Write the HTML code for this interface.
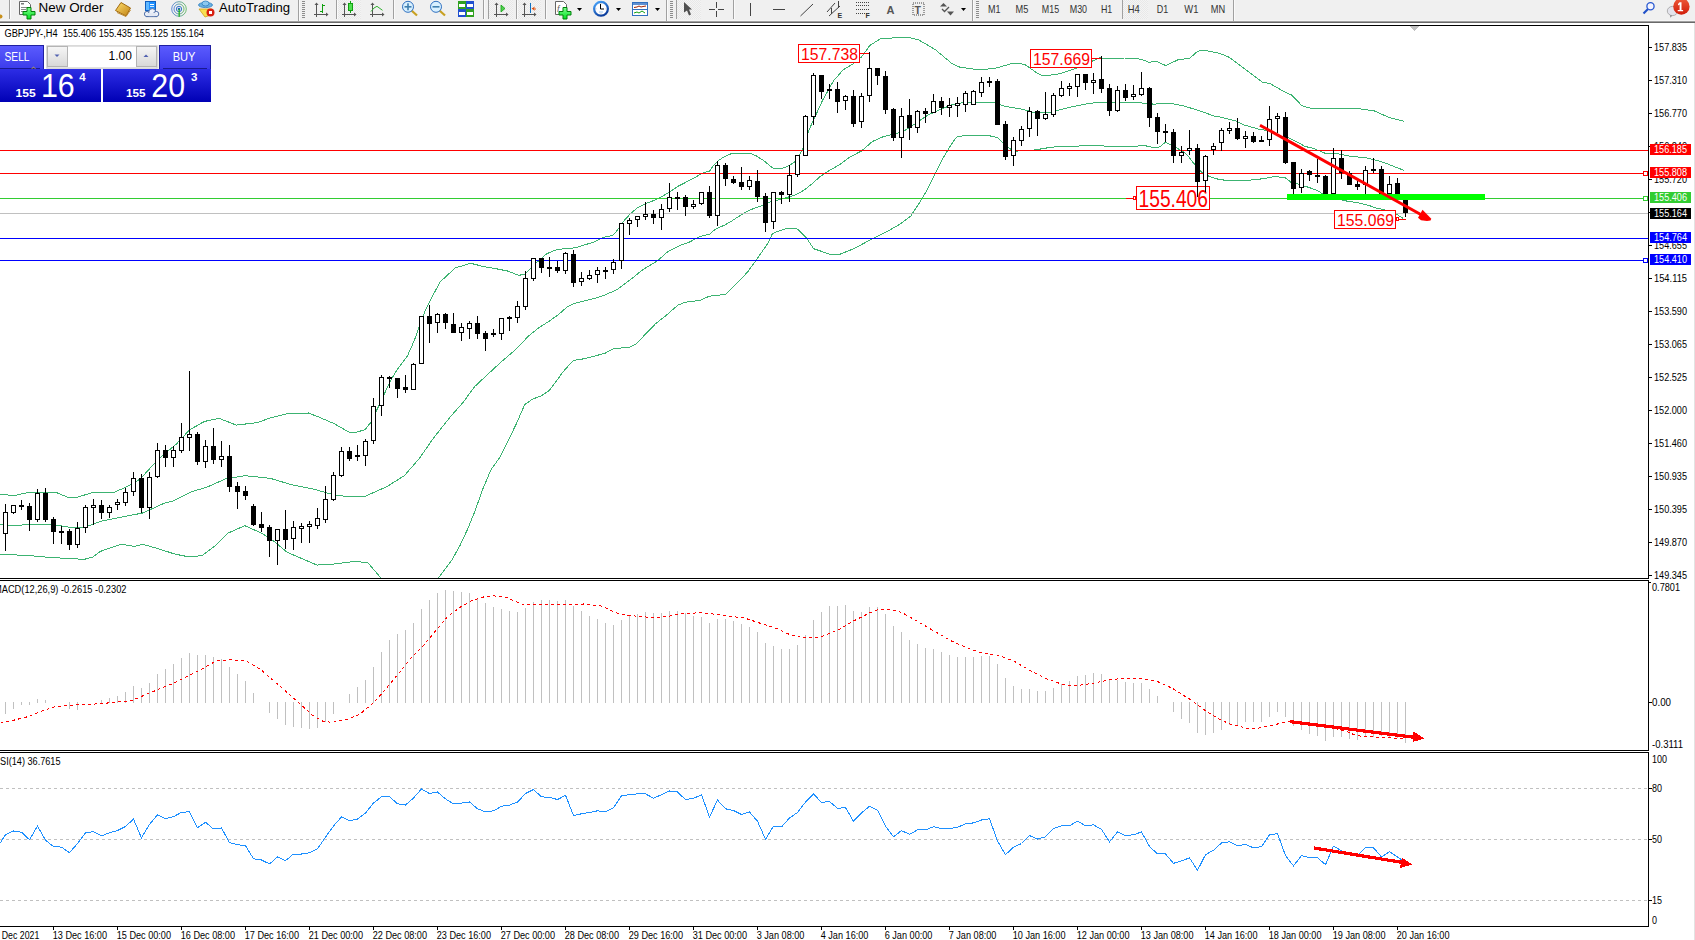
<!DOCTYPE html><html><head><meta charset="utf-8"><style>
*{margin:0;padding:0;box-sizing:border-box}
body{width:1695px;height:940px;overflow:hidden;background:#fff;font-family:'Liberation Sans',sans-serif;position:relative}
.tb{position:absolute;left:0;top:0;width:1695px;height:21px;background:#f0f0f0}
.tb1{position:absolute;left:0;top:21px;width:1695px;height:1px;background:#a9a9a9}
.tb2{position:absolute;left:0;top:22px;width:1695px;height:1px;background:#6e6e6e}
.tp{position:absolute;left:0;top:45px;width:212px;height:57px}
.sellbtn,.buybtn{position:absolute;top:0;height:25px;background:linear-gradient(#5a5aff,#3434e6);color:#fff;font-size:13px;line-height:24px;border:1px solid #1a1ab0}
.sellbtn{left:0;width:44px;padding-left:4px}
.buybtn{left:159px;width:52px;text-align:center}
.lot{position:absolute;left:46px;top:0;width:113px;height:25px;background:#fff;border:1px solid #c8c8c8}
.lot .lb{position:absolute;top:1px;width:21px;height:21px;background:linear-gradient(#f4f4f4,#dcdcdc);border:1px solid #b8b8b8;color:#5060b0;font-size:9px;text-align:center;line-height:19px}
.lot .lb:first-child{left:1px}
.lot .lb:last-child{right:1px}
.lot .lv{position:absolute;right:26px;top:4px;font-size:13px;color:#000}
.sellp,.buyp{position:absolute;top:24px;height:33px;background:linear-gradient(#2a2ae0,#0000b4);color:#fff}
.sellp{left:0;width:101px}
.buyp{left:103px;width:108px}
.sellp .s,.buyp .s{position:absolute;bottom:3px;font-size:13px;font-weight:bold}
.sellp .b,.buyp .b{position:absolute;bottom:-2px;font-size:33px}
.sellp .sup,.buyp .sup{position:absolute;top:2px;font-size:13px;font-weight:bold}
.sellp .s{left:15px}.sellp .b{left:40px}.sellp .sup{left:79px}
.buyp .s{left:22px}.buyp .b{left:48px}.buyp .sup{left:86px}
</style></head><body><svg width="1695" height="940" viewBox="0 0 1695 940" style="position:absolute;left:0;top:0" font-family="Liberation Sans, sans-serif">
<rect x="0" y="23" width="1695" height="917" fill="#fff"/>
<rect x="1694" y="23" width="1" height="917" fill="#e3e3e3"/>
<defs><clipPath id="cm"><rect x="0" y="26" width="1648" height="552"/></clipPath><clipPath id="cmacd"><rect x="0" y="581" width="1648" height="169"/></clipPath><clipPath id="crsi"><rect x="0" y="753" width="1648" height="173"/></clipPath></defs>
<g clip-path="url(#cm)" shape-rendering="crispEdges"><polyline points="0.0,494.5 15.0,495.5 30.0,492.0 55.0,492.0 68.0,497.4 78.0,497.0 91.0,493.0 100.0,492.8 112.8,492.8 127.7,486.4 140.4,478.9 151.0,467.2 163.8,454.5 176.6,443.8 189.4,430.0 204.3,421.5 219.1,418.3 236.2,425.1 257.4,422.6 270.2,417.9 287.2,413.6 308.5,413.0 319.1,417.2 334.0,423.6 348.9,432.1 355.0,432.5 365.0,429.8 370.4,422.9 376.7,410.2 383.9,394.9 391.1,379.5 398.4,367.8 407.4,356.0 414.6,339.8 420.1,323.5 425.5,310.0 430.5,300.0 440.0,282.0 455.3,267.9 470.7,263.3 483.0,266.4 497.5,269.0 508.0,271.1 518.4,275.3 524.8,274.4 531.2,267.7 538.8,260.6 546.5,254.0 554.2,250.4 564.4,248.5 574.6,247.9 583.5,245.3 595.0,241.6 603.3,237.4 613.0,235.3 617.1,230.5 622.7,222.2 629.6,214.6 636.5,208.4 644.8,204.0 653.1,200.8 661.4,197.0 669.7,191.8 678.0,186.3 686.2,182.1 694.5,177.7 702.8,173.1 709.6,171.0 713.8,165.0 718.6,160.5 723.4,157.3 731.9,153.3 750.0,153.3 756.4,156.0 763.8,160.7 773.4,168.5 781.9,168.5 789.4,165.5 794.7,161.8 800.0,153.8 803.2,147.4 808.8,130.4 822.7,100.0 833.7,80.6 843.4,69.6 853.0,64.0 861.4,57.1 870.0,45.3 880.8,38.6 907.9,37.2 918.7,39.9 935.0,49.4 951.3,63.0 959.4,67.0 978.4,69.8 994.7,68.4 1013.7,63.0 1024.5,64.3 1038.1,73.8 1043.5,76.0 1059.8,73.8 1076.1,68.4 1100.0,57.6 1101.4,58.8 1112.9,58.0 1124.4,58.0 1137.1,58.4 1143.5,60.1 1149.1,62.3 1156.5,61.1 1165.6,65.6 1178.0,59.8 1189.6,58.2 1197.8,51.2 1204.4,50.2 1219.3,53.2 1229.2,57.3 1245.7,69.7 1262.2,82.1 1270.5,83.8 1280.4,89.6 1292.0,95.3 1301.9,105.7 1313.4,109.0 1338.2,108.5 1354.7,108.1 1374.6,111.0 1389.4,117.6 1404.3,121.3" fill="none" stroke="#3cb371" stroke-width="1"/><polyline points="0.0,524.6 15.0,525.5 30.0,524.5 55.0,524.8 70.0,527.4 80.0,528.0 90.0,525.3 100.0,521.5 121.3,517.2 142.6,513.0 163.8,503.4 172.3,501.3 191.5,491.7 206.4,487.4 225.5,478.9 244.7,475.7 270.2,478.3 291.5,484.7 312.8,488.9 334.0,494.9 351.1,497.0 366.0,496.0 387.2,486.4 404.3,475.7 419.1,458.7 434.0,437.4 450.0,417.2 463.4,402.0 474.5,386.7 501.3,361.8 515.2,350.0 528.6,336.0 538.8,327.7 549.0,321.3 558.0,314.9 566.9,307.2 574.6,303.4 584.8,300.9 600.9,296.6 616.4,290.0 629.6,280.3 643.4,269.2 657.2,261.0 668.3,251.2 681.4,244.9 689.0,242.3 700.0,236.5 709.6,234.1 716.0,228.8 724.5,225.1 731.9,220.9 742.6,213.9 753.2,208.6 763.8,205.1 770.2,202.0 777.7,200.1 787.2,197.4 795.7,194.8 804.3,190.0 812.8,183.1 820.0,176.7 830.0,170.0 839.2,165.0 850.3,156.7 861.4,151.1 872.4,141.5 883.5,136.6 891.8,134.5 902.8,131.8 915.0,123.8 927.8,115.1 940.5,109.4 953.3,104.3 966.0,102.1 975.0,102.6 986.5,102.1 994.2,102.7 1004.4,106.2 1021.0,109.0 1029.9,111.3 1035.0,113.0 1051.6,112.0 1068.2,107.6 1086.1,104.0 1098.8,102.2 1111.6,102.2 1124.4,102.2 1137.1,102.4 1146.1,103.5 1155.0,104.2 1161.4,103.0 1169.0,103.0 1184.6,106.1 1193.3,108.9 1206.1,113.0 1212.7,115.7 1218.8,116.8 1235.8,121.0 1244.4,125.1 1258.9,129.2 1269.9,131.0 1282.0,136.6 1287.8,137.4 1300.5,143.8 1305.2,146.5 1313.3,148.3 1325.0,153.2 1338.8,154.0 1351.6,156.5 1364.4,157.5 1371.3,159.0 1377.1,160.5 1387.8,163.9 1394.0,166.6 1404.3,170.4" fill="none" stroke="#3cb371" stroke-width="1"/><polyline points="0.0,555.0 10.0,554.6 34.0,556.0 50.0,557.5 66.0,558.3 84.0,559.4 93.0,557.0 100.0,551.5 121.3,544.3 134.0,546.4 142.6,544.3 159.6,549.1 174.5,554.0 189.4,557.0 202.1,555.5 214.9,546.0 227.7,533.2 244.7,525.7 261.7,533.2 274.5,541.7 287.2,552.3 302.1,558.7 317.0,565.1 334.0,564.0 355.3,561.3 368.1,563.0 380.9,578.0 395.0,600.0 425.0,600.0 438.3,578.0 439.0,577.3 451.3,560.9 459.8,546.0 467.2,530.0 474.7,511.9 482.4,490.0 491.2,469.2 500.0,457.3 508.7,439.7 516.7,423.0 524.7,404.6 532.7,399.0 540.6,396.2 548.6,391.1 555.0,383.1 563.0,371.9 573.3,360.4 582.1,359.1 590.0,357.3 604.9,353.3 613.8,348.4 628.7,347.6 636.2,343.9 649.6,329.8 655.5,323.8 665.9,315.6 677.8,305.2 685.3,302.2 700.2,300.3 709.1,296.3 725.5,294.3 738.9,281.4 747.8,271.7 755.3,261.3 764.2,248.6 768.7,241.9 772.4,233.7 774.5,232.6 781.9,229.9 788.3,228.1 793.6,228.1 797.9,229.4 806.4,237.9 813.6,248.7 830.8,254.5 840.1,254.2 853.6,248.8 869.9,240.1 886.2,232.0 899.7,224.4 910.6,216.3 918.7,204.1 926.9,190.5 935.0,174.2 943.2,157.9 951.3,144.4 956.7,137.0 967.6,135.1 986.6,135.1 997.4,137.6 1004.2,144.4 1013.7,151.2 1032.7,150.3 1049.0,147.6 1059.8,146.3 1100.0,145.7 1111.6,146.5 1137.1,146.2 1141.0,145.2 1146.1,145.9 1155.0,148.1 1160.1,146.8 1165.2,142.3 1171.6,144.9 1178.0,148.7 1184.4,152.6 1189.5,157.7 1193.3,162.8 1201.0,171.7 1209.9,176.8 1218.8,179.4 1226.5,180.4 1246.9,180.4 1263.5,178.7 1275.0,176.5 1285.2,177.7 1291.6,182.8 1298.0,184.0 1308.2,187.2 1317.1,190.4 1322.2,193.6 1344.0,200.6 1360.0,203.2 1368.5,205.3 1377.0,208.3 1383.8,209.6 1395.7,213.8 1403.4,218.5" fill="none" stroke="#3cb371" stroke-width="1"/></g>
<g clip-path="url(#cm)" shape-rendering="crispEdges"><rect x="0" y="150" width="1648" height="1" fill="#ff0000"/><rect x="0" y="173" width="1643" height="1" fill="#ff0000"/><rect x="0" y="198" width="1126" height="1" fill="#32cd32"/><rect x="1126" y="198" width="8" height="1" fill="#ff0000"/><rect x="1210" y="198" width="433" height="1" fill="#32cd32"/><rect x="0" y="213" width="1648" height="1" fill="#c0c0c0"/><rect x="0" y="238" width="1648" height="1" fill="#0000ff"/><rect x="0" y="260" width="1643" height="1" fill="#0000ff"/><rect x="1643.5" y="171.5" width="4" height="4" fill="#fff" stroke="#ff0000" stroke-width="1"/><rect x="1643.5" y="196.5" width="4" height="4" fill="#fff" stroke="#32cd32" stroke-width="1"/><rect x="1643.5" y="258.5" width="4" height="4" fill="#fff" stroke="#0000ff" stroke-width="1"/></g>
<g clip-path="url(#cm)"><rect x="798.5" y="44.5" width="61" height="18" fill="#fff" stroke="#ff0000" stroke-width="1" shape-rendering="crispEdges"/><text x="801" y="60" font-size="16.5" fill="#ff0000" textLength="57" lengthAdjust="spacingAndGlyphs">157.738</text><rect x="860" y="53" width="9" height="1" fill="#ff0000"/><rect x="1030.5" y="49.5" width="61" height="18" fill="#fff" stroke="#ff0000" stroke-width="1" shape-rendering="crispEdges"/><text x="1033" y="65" font-size="16.5" fill="#ff0000" textLength="57" lengthAdjust="spacingAndGlyphs">157.669</text><rect x="1092" y="58" width="9" height="1" fill="#ff0000"/><rect x="1136.5" y="186.5" width="73" height="23" fill="#fff" stroke="#ff0000" stroke-width="1" shape-rendering="crispEdges"/><text x="1138.5" y="207.2" font-size="23" fill="#ff0000" textLength="69.5" lengthAdjust="spacingAndGlyphs">155.406</text><rect x="1133.5" y="196.5" width="2" height="3" fill="#fff" stroke="#ff0000"/><rect x="1334.5" y="210.5" width="61" height="18" fill="#fff" stroke="#ff0000" stroke-width="1" shape-rendering="crispEdges"/><text x="1337" y="226" font-size="16.5" fill="#ff0000" textLength="57" lengthAdjust="spacingAndGlyphs">155.069</text><rect x="1396.5" y="217.5" width="2" height="3" fill="#fff" stroke="#ff0000"/><rect x="1399" y="219" width="7" height="1" fill="#ff0000"/></g>
<g clip-path="url(#cm)" shape-rendering="crispEdges"><rect x="5" y="504" width="1" height="47"/><rect x="3" y="512" width="5" height="22"/><rect x="4" y="513" width="3" height="20" fill="#fff"/><rect x="13" y="505" width="1" height="9"/><rect x="11" y="505" width="5" height="8"/><rect x="12" y="506" width="3" height="6" fill="#fff"/><rect x="21" y="500" width="1" height="10"/><rect x="19" y="505" width="5" height="2"/><rect x="29" y="503" width="1" height="28"/><rect x="27" y="506" width="5" height="14"/><rect x="37" y="489" width="1" height="33"/><rect x="35" y="493" width="5" height="27"/><rect x="36" y="494" width="3" height="25" fill="#fff"/><rect x="45" y="488" width="1" height="34"/><rect x="43" y="493" width="5" height="27"/><rect x="53" y="517" width="1" height="27"/><rect x="51" y="519" width="5" height="13"/><rect x="61" y="526" width="1" height="18"/><rect x="59" y="531" width="5" height="2"/><rect x="69" y="529" width="1" height="21"/><rect x="67" y="531" width="5" height="14"/><rect x="77" y="522" width="1" height="26"/><rect x="75" y="528" width="5" height="17"/><rect x="76" y="529" width="3" height="15" fill="#fff"/><rect x="85" y="505" width="1" height="28"/><rect x="83" y="507" width="5" height="21"/><rect x="84" y="508" width="3" height="19" fill="#fff"/><rect x="93" y="499" width="1" height="26"/><rect x="91" y="505" width="5" height="3"/><rect x="92" y="506" width="3" height="1" fill="#fff"/><rect x="101" y="500" width="1" height="19"/><rect x="99" y="505" width="5" height="8"/><rect x="109" y="505" width="1" height="13"/><rect x="107" y="507" width="5" height="6"/><rect x="108" y="508" width="3" height="4" fill="#fff"/><rect x="117" y="499" width="1" height="11"/><rect x="115" y="502" width="5" height="3"/><rect x="116" y="503" width="3" height="1" fill="#fff"/><rect x="125" y="488" width="1" height="18"/><rect x="123" y="492" width="5" height="11"/><rect x="124" y="493" width="3" height="9" fill="#fff"/><rect x="133" y="472" width="1" height="24"/><rect x="131" y="478" width="5" height="14"/><rect x="132" y="479" width="3" height="12" fill="#fff"/><rect x="141" y="474" width="1" height="39"/><rect x="139" y="478" width="5" height="30"/><rect x="149" y="472" width="1" height="47"/><rect x="147" y="477" width="5" height="31"/><rect x="148" y="478" width="3" height="29" fill="#fff"/><rect x="157" y="443" width="1" height="35"/><rect x="155" y="450" width="5" height="27"/><rect x="156" y="451" width="3" height="25" fill="#fff"/><rect x="165" y="445" width="1" height="22"/><rect x="163" y="450" width="5" height="8"/><rect x="173" y="446" width="1" height="21"/><rect x="171" y="450" width="5" height="8"/><rect x="172" y="451" width="3" height="6" fill="#fff"/><rect x="181" y="423" width="1" height="30"/><rect x="179" y="437" width="5" height="14"/><rect x="180" y="438" width="3" height="12" fill="#fff"/><rect x="189" y="371" width="1" height="80"/><rect x="187" y="434" width="5" height="4"/><rect x="188" y="435" width="3" height="2" fill="#fff"/><rect x="197" y="432" width="1" height="33"/><rect x="195" y="434" width="5" height="28"/><rect x="205" y="440" width="1" height="28"/><rect x="203" y="446" width="5" height="16"/><rect x="204" y="447" width="3" height="14" fill="#fff"/><rect x="213" y="428" width="1" height="36"/><rect x="211" y="446" width="5" height="14"/><rect x="221" y="441" width="1" height="26"/><rect x="219" y="456" width="5" height="4"/><rect x="220" y="457" width="3" height="2" fill="#fff"/><rect x="229" y="445" width="1" height="47"/><rect x="227" y="456" width="5" height="31"/><rect x="237" y="482" width="1" height="27"/><rect x="235" y="486" width="5" height="6"/><rect x="245" y="486" width="1" height="14"/><rect x="243" y="491" width="5" height="5"/><rect x="253" y="504" width="1" height="22"/><rect x="251" y="506" width="5" height="19"/><rect x="261" y="512" width="1" height="20"/><rect x="259" y="524" width="5" height="4"/><rect x="269" y="525" width="1" height="32"/><rect x="267" y="527" width="5" height="14"/><rect x="277" y="529" width="1" height="36"/><rect x="275" y="529" width="5" height="12"/><rect x="276" y="530" width="3" height="10" fill="#fff"/><rect x="285" y="510" width="1" height="39"/><rect x="283" y="529" width="5" height="11"/><rect x="293" y="521" width="1" height="29"/><rect x="291" y="527" width="5" height="12"/><rect x="292" y="528" width="3" height="10" fill="#fff"/><rect x="301" y="523" width="1" height="20"/><rect x="299" y="526" width="5" height="3"/><rect x="300" y="527" width="3" height="1" fill="#fff"/><rect x="309" y="521" width="1" height="22"/><rect x="307" y="524" width="5" height="3"/><rect x="308" y="525" width="3" height="1" fill="#fff"/><rect x="317" y="508" width="1" height="21"/><rect x="315" y="518" width="5" height="8"/><rect x="316" y="519" width="3" height="6" fill="#fff"/><rect x="325" y="486" width="1" height="37"/><rect x="323" y="499" width="5" height="21"/><rect x="324" y="500" width="3" height="19" fill="#fff"/><rect x="333" y="472" width="1" height="29"/><rect x="331" y="475" width="5" height="25"/><rect x="332" y="476" width="3" height="23" fill="#fff"/><rect x="341" y="447" width="1" height="30"/><rect x="339" y="451" width="5" height="25"/><rect x="340" y="452" width="3" height="23" fill="#fff"/><rect x="349" y="447" width="1" height="14"/><rect x="347" y="451" width="5" height="8"/><rect x="357" y="445" width="1" height="16"/><rect x="355" y="455" width="5" height="2"/><rect x="365" y="439" width="1" height="27"/><rect x="363" y="441" width="5" height="15"/><rect x="364" y="442" width="3" height="13" fill="#fff"/><rect x="373" y="398" width="1" height="46"/><rect x="371" y="406" width="5" height="35"/><rect x="372" y="407" width="3" height="33" fill="#fff"/><rect x="381" y="375" width="1" height="41"/><rect x="379" y="377" width="5" height="29"/><rect x="380" y="378" width="3" height="27" fill="#fff"/><rect x="389" y="376" width="1" height="12"/><rect x="387" y="377" width="5" height="2"/><rect x="397" y="378" width="1" height="20"/><rect x="395" y="378" width="5" height="11"/><rect x="405" y="375" width="1" height="18"/><rect x="403" y="387" width="5" height="3"/><rect x="413" y="363" width="1" height="27"/><rect x="411" y="364" width="5" height="26"/><rect x="412" y="365" width="3" height="24" fill="#fff"/><rect x="421" y="316" width="1" height="48"/><rect x="419" y="316" width="5" height="48"/><rect x="420" y="317" width="3" height="46" fill="#fff"/><rect x="429" y="305" width="1" height="38"/><rect x="427" y="316" width="5" height="8"/><rect x="437" y="313" width="1" height="20"/><rect x="435" y="314" width="5" height="9"/><rect x="436" y="315" width="3" height="7" fill="#fff"/><rect x="445" y="313" width="1" height="16"/><rect x="443" y="314" width="5" height="9"/><rect x="453" y="313" width="1" height="20"/><rect x="451" y="324" width="5" height="9"/><rect x="461" y="323" width="1" height="18"/><rect x="459" y="327" width="5" height="6"/><rect x="460" y="328" width="3" height="4" fill="#fff"/><rect x="469" y="321" width="1" height="18"/><rect x="467" y="323" width="5" height="6"/><rect x="468" y="324" width="3" height="4" fill="#fff"/><rect x="477" y="316" width="1" height="23"/><rect x="475" y="323" width="5" height="11"/><rect x="485" y="331" width="1" height="20"/><rect x="483" y="333" width="5" height="6"/><rect x="493" y="329" width="1" height="8"/><rect x="491" y="333" width="5" height="2"/><rect x="501" y="318" width="1" height="22"/><rect x="499" y="318" width="5" height="16"/><rect x="500" y="319" width="3" height="14" fill="#fff"/><rect x="509" y="316" width="1" height="15"/><rect x="507" y="317" width="5" height="2"/><rect x="517" y="301" width="1" height="22"/><rect x="515" y="306" width="5" height="12"/><rect x="516" y="307" width="3" height="10" fill="#fff"/><rect x="525" y="271" width="1" height="39"/><rect x="523" y="278" width="5" height="29"/><rect x="524" y="279" width="3" height="27" fill="#fff"/><rect x="533" y="258" width="1" height="23"/><rect x="531" y="258" width="5" height="21"/><rect x="532" y="259" width="3" height="19" fill="#fff"/><rect x="541" y="258" width="1" height="15"/><rect x="539" y="258" width="5" height="10"/><rect x="549" y="257" width="1" height="20"/><rect x="547" y="267" width="5" height="2"/><rect x="557" y="261" width="1" height="12"/><rect x="555" y="267" width="5" height="4"/><rect x="565" y="252" width="1" height="22"/><rect x="563" y="253" width="5" height="18"/><rect x="564" y="254" width="3" height="16" fill="#fff"/><rect x="573" y="250" width="1" height="37"/><rect x="571" y="254" width="5" height="29"/><rect x="581" y="272" width="1" height="14"/><rect x="579" y="278" width="5" height="4"/><rect x="580" y="279" width="3" height="2" fill="#fff"/><rect x="589" y="270" width="1" height="10"/><rect x="587" y="275" width="5" height="4"/><rect x="588" y="276" width="3" height="2" fill="#fff"/><rect x="597" y="267" width="1" height="16"/><rect x="595" y="270" width="5" height="5"/><rect x="596" y="271" width="3" height="3" fill="#fff"/><rect x="605" y="267" width="1" height="12"/><rect x="603" y="270" width="5" height="2"/><rect x="613" y="259" width="1" height="15"/><rect x="611" y="262" width="5" height="8"/><rect x="612" y="263" width="3" height="6" fill="#fff"/><rect x="621" y="223" width="1" height="46"/><rect x="619" y="223" width="5" height="38"/><rect x="620" y="224" width="3" height="36" fill="#fff"/><rect x="629" y="218" width="1" height="17"/><rect x="627" y="220" width="5" height="4"/><rect x="628" y="221" width="3" height="2" fill="#fff"/><rect x="637" y="216" width="1" height="11"/><rect x="635" y="216" width="5" height="4"/><rect x="636" y="217" width="3" height="2" fill="#fff"/><rect x="645" y="202" width="1" height="18"/><rect x="643" y="214" width="5" height="3"/><rect x="644" y="215" width="3" height="1" fill="#fff"/><rect x="653" y="210" width="1" height="14"/><rect x="651" y="214" width="5" height="4"/><rect x="661" y="204" width="1" height="26"/><rect x="659" y="209" width="5" height="9"/><rect x="660" y="210" width="3" height="7" fill="#fff"/><rect x="669" y="183" width="1" height="29"/><rect x="667" y="197" width="5" height="12"/><rect x="668" y="198" width="3" height="10" fill="#fff"/><rect x="677" y="192" width="1" height="18"/><rect x="675" y="197" width="5" height="2"/><rect x="685" y="195" width="1" height="21"/><rect x="683" y="197" width="5" height="10"/><rect x="693" y="200" width="1" height="9"/><rect x="691" y="204" width="5" height="3"/><rect x="692" y="205" width="3" height="1" fill="#fff"/><rect x="701" y="192" width="1" height="13"/><rect x="699" y="192" width="5" height="12"/><rect x="700" y="193" width="3" height="10" fill="#fff"/><rect x="709" y="186" width="1" height="32"/><rect x="707" y="192" width="5" height="24"/><rect x="717" y="161" width="1" height="65"/><rect x="715" y="165" width="5" height="51"/><rect x="716" y="166" width="3" height="49" fill="#fff"/><rect x="725" y="163" width="1" height="23"/><rect x="723" y="165" width="5" height="14"/><rect x="733" y="176" width="1" height="8"/><rect x="731" y="179" width="5" height="4"/><rect x="741" y="167" width="1" height="23"/><rect x="739" y="182" width="5" height="5"/><rect x="749" y="176" width="1" height="14"/><rect x="747" y="180" width="5" height="7"/><rect x="748" y="181" width="3" height="5" fill="#fff"/><rect x="757" y="170" width="1" height="32"/><rect x="755" y="181" width="5" height="16"/><rect x="765" y="193" width="1" height="39"/><rect x="763" y="196" width="5" height="27"/><rect x="773" y="192" width="1" height="37"/><rect x="771" y="192" width="5" height="30"/><rect x="772" y="193" width="3" height="28" fill="#fff"/><rect x="781" y="191" width="1" height="13"/><rect x="779" y="192" width="5" height="3"/><rect x="789" y="165" width="1" height="37"/><rect x="787" y="175" width="5" height="20"/><rect x="788" y="176" width="3" height="18" fill="#fff"/><rect x="797" y="155" width="1" height="22"/><rect x="795" y="155" width="5" height="20"/><rect x="796" y="156" width="3" height="18" fill="#fff"/><rect x="805" y="115" width="1" height="41"/><rect x="803" y="116" width="5" height="40"/><rect x="804" y="117" width="3" height="38" fill="#fff"/><rect x="813" y="73" width="1" height="52"/><rect x="811" y="75" width="5" height="42"/><rect x="812" y="76" width="3" height="40" fill="#fff"/><rect x="821" y="75" width="1" height="24"/><rect x="819" y="75" width="5" height="17"/><rect x="829" y="84" width="1" height="15"/><rect x="827" y="89" width="5" height="2"/><rect x="837" y="82" width="1" height="31"/><rect x="835" y="89" width="5" height="13"/><rect x="845" y="95" width="1" height="15"/><rect x="843" y="96" width="5" height="5"/><rect x="844" y="97" width="3" height="3" fill="#fff"/><rect x="853" y="90" width="1" height="37"/><rect x="851" y="96" width="5" height="28"/><rect x="861" y="93" width="1" height="35"/><rect x="859" y="96" width="5" height="26"/><rect x="860" y="97" width="3" height="24" fill="#fff"/><rect x="869" y="52" width="1" height="50"/><rect x="867" y="68" width="5" height="28"/><rect x="868" y="69" width="3" height="26" fill="#fff"/><rect x="877" y="68" width="1" height="17"/><rect x="875" y="68" width="5" height="8"/><rect x="885" y="71" width="1" height="43"/><rect x="883" y="76" width="5" height="34"/><rect x="893" y="108" width="1" height="33"/><rect x="891" y="109" width="5" height="29"/><rect x="901" y="108" width="1" height="50"/><rect x="899" y="116" width="5" height="22"/><rect x="900" y="117" width="3" height="20" fill="#fff"/><rect x="909" y="99" width="1" height="41"/><rect x="907" y="115" width="5" height="13"/><rect x="917" y="110" width="1" height="23"/><rect x="915" y="111" width="5" height="17"/><rect x="916" y="112" width="3" height="15" fill="#fff"/><rect x="925" y="108" width="1" height="15"/><rect x="923" y="111" width="5" height="3"/><rect x="933" y="94" width="1" height="19"/><rect x="931" y="101" width="5" height="12"/><rect x="932" y="102" width="3" height="10" fill="#fff"/><rect x="941" y="97" width="1" height="18"/><rect x="939" y="101" width="5" height="7"/><rect x="949" y="98" width="1" height="19"/><rect x="947" y="105" width="5" height="3"/><rect x="948" y="106" width="3" height="1" fill="#fff"/><rect x="957" y="97" width="1" height="20"/><rect x="955" y="103" width="5" height="3"/><rect x="956" y="104" width="3" height="1" fill="#fff"/><rect x="965" y="91" width="1" height="21"/><rect x="963" y="93" width="5" height="12"/><rect x="964" y="94" width="3" height="10" fill="#fff"/><rect x="973" y="90" width="1" height="15"/><rect x="971" y="91" width="5" height="14"/><rect x="972" y="92" width="3" height="12" fill="#fff"/><rect x="981" y="77" width="1" height="20"/><rect x="979" y="82" width="5" height="11"/><rect x="980" y="83" width="3" height="9" fill="#fff"/><rect x="989" y="77" width="1" height="10"/><rect x="987" y="81" width="5" height="2"/><rect x="997" y="79" width="1" height="46"/><rect x="995" y="81" width="5" height="44"/><rect x="1005" y="121" width="1" height="39"/><rect x="1003" y="124" width="5" height="33"/><rect x="1013" y="137" width="1" height="29"/><rect x="1011" y="140" width="5" height="16"/><rect x="1012" y="141" width="3" height="14" fill="#fff"/><rect x="1021" y="126" width="1" height="20"/><rect x="1019" y="129" width="5" height="12"/><rect x="1020" y="130" width="3" height="10" fill="#fff"/><rect x="1029" y="107" width="1" height="30"/><rect x="1027" y="111" width="5" height="18"/><rect x="1028" y="112" width="3" height="16" fill="#fff"/><rect x="1037" y="110" width="1" height="26"/><rect x="1035" y="111" width="5" height="8"/><rect x="1045" y="92" width="1" height="28"/><rect x="1043" y="114" width="5" height="5"/><rect x="1044" y="115" width="3" height="3" fill="#fff"/><rect x="1053" y="93" width="1" height="24"/><rect x="1051" y="95" width="5" height="20"/><rect x="1052" y="96" width="3" height="18" fill="#fff"/><rect x="1061" y="81" width="1" height="16"/><rect x="1059" y="88" width="5" height="8"/><rect x="1060" y="89" width="3" height="6" fill="#fff"/><rect x="1069" y="83" width="1" height="13"/><rect x="1067" y="86" width="5" height="3"/><rect x="1068" y="87" width="3" height="1" fill="#fff"/><rect x="1077" y="74" width="1" height="23"/><rect x="1075" y="74" width="5" height="13"/><rect x="1076" y="75" width="3" height="11" fill="#fff"/><rect x="1085" y="74" width="1" height="16"/><rect x="1083" y="74" width="5" height="9"/><rect x="1093" y="73" width="1" height="21"/><rect x="1091" y="80" width="5" height="3"/><rect x="1092" y="81" width="3" height="1" fill="#fff"/><rect x="1101" y="56" width="1" height="37"/><rect x="1099" y="79" width="5" height="10"/><rect x="1109" y="84" width="1" height="32"/><rect x="1107" y="88" width="5" height="23"/><rect x="1117" y="86" width="1" height="26"/><rect x="1115" y="90" width="5" height="21"/><rect x="1116" y="91" width="3" height="19" fill="#fff"/><rect x="1125" y="84" width="1" height="17"/><rect x="1123" y="90" width="5" height="8"/><rect x="1133" y="85" width="1" height="15"/><rect x="1131" y="94" width="5" height="3"/><rect x="1132" y="95" width="3" height="1" fill="#fff"/><rect x="1141" y="72" width="1" height="24"/><rect x="1139" y="88" width="5" height="7"/><rect x="1140" y="89" width="3" height="5" fill="#fff"/><rect x="1149" y="87" width="1" height="40"/><rect x="1147" y="88" width="5" height="30"/><rect x="1157" y="113" width="1" height="31"/><rect x="1155" y="117" width="5" height="15"/><rect x="1165" y="124" width="1" height="18"/><rect x="1163" y="131" width="5" height="2"/><rect x="1173" y="129" width="1" height="34"/><rect x="1171" y="132" width="5" height="24"/><rect x="1181" y="146" width="1" height="17"/><rect x="1179" y="152" width="5" height="4"/><rect x="1180" y="153" width="3" height="2" fill="#fff"/><rect x="1189" y="130" width="1" height="25"/><rect x="1187" y="148" width="5" height="3"/><rect x="1188" y="149" width="3" height="1" fill="#fff"/><rect x="1197" y="144" width="1" height="53"/><rect x="1195" y="148" width="5" height="34"/><rect x="1205" y="155" width="1" height="37"/><rect x="1203" y="156" width="5" height="25"/><rect x="1204" y="157" width="3" height="23" fill="#fff"/><rect x="1213" y="143" width="1" height="12"/><rect x="1211" y="146" width="5" height="4"/><rect x="1212" y="147" width="3" height="2" fill="#fff"/><rect x="1221" y="128" width="1" height="23"/><rect x="1219" y="130" width="5" height="13"/><rect x="1220" y="131" width="3" height="11" fill="#fff"/><rect x="1229" y="122" width="1" height="12"/><rect x="1227" y="128" width="5" height="3"/><rect x="1228" y="129" width="3" height="1" fill="#fff"/><rect x="1237" y="118" width="1" height="22"/><rect x="1235" y="128" width="5" height="11"/><rect x="1245" y="131" width="1" height="17"/><rect x="1243" y="136" width="5" height="3"/><rect x="1244" y="137" width="3" height="1" fill="#fff"/><rect x="1253" y="132" width="1" height="11"/><rect x="1251" y="136" width="5" height="6"/><rect x="1261" y="136" width="1" height="6"/><rect x="1259" y="140" width="5" height="2"/><rect x="1269" y="106" width="1" height="40"/><rect x="1267" y="119" width="5" height="21"/><rect x="1268" y="120" width="3" height="19" fill="#fff"/><rect x="1277" y="113" width="1" height="20"/><rect x="1275" y="116" width="5" height="3"/><rect x="1276" y="117" width="3" height="1" fill="#fff"/><rect x="1285" y="112" width="1" height="52"/><rect x="1283" y="117" width="5" height="46"/><rect x="1293" y="162" width="1" height="32"/><rect x="1291" y="162" width="5" height="27"/><rect x="1301" y="169" width="1" height="24"/><rect x="1299" y="173" width="5" height="15"/><rect x="1300" y="174" width="3" height="13" fill="#fff"/><rect x="1309" y="170" width="1" height="11"/><rect x="1307" y="171" width="5" height="4"/><rect x="1317" y="159" width="1" height="24"/><rect x="1315" y="175" width="5" height="2"/><rect x="1325" y="175" width="1" height="21"/><rect x="1323" y="176" width="5" height="18"/><rect x="1333" y="148" width="1" height="47"/><rect x="1331" y="158" width="5" height="36"/><rect x="1332" y="159" width="3" height="34" fill="#fff"/><rect x="1341" y="150" width="1" height="29"/><rect x="1339" y="158" width="5" height="15"/><rect x="1349" y="171" width="1" height="14"/><rect x="1347" y="173" width="5" height="12"/><rect x="1357" y="181" width="1" height="9"/><rect x="1355" y="184" width="5" height="3"/><rect x="1365" y="166" width="1" height="28"/><rect x="1363" y="170" width="5" height="15"/><rect x="1364" y="171" width="3" height="13" fill="#fff"/><rect x="1373" y="158" width="1" height="15"/><rect x="1371" y="169" width="5" height="2"/><rect x="1381" y="166" width="1" height="29"/><rect x="1379" y="169" width="5" height="25"/><rect x="1389" y="176" width="1" height="19"/><rect x="1387" y="184" width="5" height="10"/><rect x="1388" y="185" width="3" height="8" fill="#fff"/><rect x="1397" y="178" width="1" height="21"/><rect x="1395" y="183" width="5" height="15"/><rect x="1405" y="196" width="1" height="21"/><rect x="1403" y="198" width="5" height="15"/></g>
<g clip-path="url(#cm)"><rect x="1287" y="194" width="198" height="6" fill="#00ff00"/><line x1="1260" y1="125.2" x2="1423" y2="215.8" stroke="#ff0000" stroke-width="3"/><polygon points="1422.5,209.8 1431.3,218.8 1430.5,220.5 1427,221 1421,220.3 1418,217.8" fill="#ff0000"/></g>
<g clip-path="url(#cmacd)" shape-rendering="crispEdges"><rect x="5" y="702" width="1" height="12" fill="#c0c0c0"/><rect x="13" y="702" width="1" height="7" fill="#c0c0c0"/><rect x="21" y="702" width="1" height="3" fill="#c0c0c0"/><rect x="29" y="702" width="1" height="3" fill="#c0c0c0"/><rect x="37" y="699" width="1" height="4" fill="#c0c0c0"/><rect x="45" y="700" width="1" height="3" fill="#c0c0c0"/><rect x="69" y="702" width="1" height="7" fill="#c0c0c0"/><rect x="77" y="702" width="1" height="8" fill="#c0c0c0"/><rect x="101" y="700" width="1" height="3" fill="#c0c0c0"/><rect x="109" y="698" width="1" height="5" fill="#c0c0c0"/><rect x="117" y="696" width="1" height="7" fill="#c0c0c0"/><rect x="125" y="692" width="1" height="11" fill="#c0c0c0"/><rect x="133" y="686" width="1" height="17" fill="#c0c0c0"/><rect x="141" y="688" width="1" height="15" fill="#c0c0c0"/><rect x="149" y="683" width="1" height="20" fill="#c0c0c0"/><rect x="157" y="674" width="1" height="29" fill="#c0c0c0"/><rect x="165" y="669" width="1" height="34" fill="#c0c0c0"/><rect x="173" y="664" width="1" height="39" fill="#c0c0c0"/><rect x="181" y="658" width="1" height="45" fill="#c0c0c0"/><rect x="189" y="653" width="1" height="50" fill="#c0c0c0"/><rect x="197" y="655" width="1" height="48" fill="#c0c0c0"/><rect x="205" y="655" width="1" height="48" fill="#c0c0c0"/><rect x="213" y="657" width="1" height="46" fill="#c0c0c0"/><rect x="221" y="659" width="1" height="44" fill="#c0c0c0"/><rect x="229" y="667" width="1" height="36" fill="#c0c0c0"/><rect x="237" y="674" width="1" height="29" fill="#c0c0c0"/><rect x="245" y="681" width="1" height="22" fill="#c0c0c0"/><rect x="253" y="693" width="1" height="10" fill="#c0c0c0"/><rect x="269" y="702" width="1" height="11" fill="#c0c0c0"/><rect x="277" y="702" width="1" height="17" fill="#c0c0c0"/><rect x="285" y="702" width="1" height="23" fill="#c0c0c0"/><rect x="293" y="702" width="1" height="25" fill="#c0c0c0"/><rect x="301" y="702" width="1" height="26" fill="#c0c0c0"/><rect x="309" y="702" width="1" height="27" fill="#c0c0c0"/><rect x="317" y="702" width="1" height="26" fill="#c0c0c0"/><rect x="325" y="702" width="1" height="20" fill="#c0c0c0"/><rect x="333" y="702" width="1" height="12" fill="#c0c0c0"/><rect x="349" y="694" width="1" height="9" fill="#c0c0c0"/><rect x="357" y="687" width="1" height="16" fill="#c0c0c0"/><rect x="365" y="680" width="1" height="23" fill="#c0c0c0"/><rect x="373" y="667" width="1" height="36" fill="#c0c0c0"/><rect x="381" y="652" width="1" height="51" fill="#c0c0c0"/><rect x="389" y="640" width="1" height="63" fill="#c0c0c0"/><rect x="397" y="634" width="1" height="69" fill="#c0c0c0"/><rect x="405" y="630" width="1" height="73" fill="#c0c0c0"/><rect x="413" y="623" width="1" height="80" fill="#c0c0c0"/><rect x="421" y="609" width="1" height="94" fill="#c0c0c0"/><rect x="429" y="600" width="1" height="103" fill="#c0c0c0"/><rect x="437" y="593" width="1" height="110" fill="#c0c0c0"/><rect x="445" y="590" width="1" height="113" fill="#c0c0c0"/><rect x="453" y="591" width="1" height="112" fill="#c0c0c0"/><rect x="461" y="592" width="1" height="111" fill="#c0c0c0"/><rect x="469" y="593" width="1" height="110" fill="#c0c0c0"/><rect x="477" y="598" width="1" height="105" fill="#c0c0c0"/><rect x="485" y="603" width="1" height="100" fill="#c0c0c0"/><rect x="493" y="607" width="1" height="96" fill="#c0c0c0"/><rect x="501" y="609" width="1" height="94" fill="#c0c0c0"/><rect x="509" y="611" width="1" height="92" fill="#c0c0c0"/><rect x="517" y="612" width="1" height="91" fill="#c0c0c0"/><rect x="525" y="608" width="1" height="95" fill="#c0c0c0"/><rect x="533" y="602" width="1" height="101" fill="#c0c0c0"/><rect x="541" y="600" width="1" height="103" fill="#c0c0c0"/><rect x="549" y="600" width="1" height="103" fill="#c0c0c0"/><rect x="557" y="601" width="1" height="102" fill="#c0c0c0"/><rect x="565" y="600" width="1" height="103" fill="#c0c0c0"/><rect x="573" y="606" width="1" height="97" fill="#c0c0c0"/><rect x="581" y="611" width="1" height="92" fill="#c0c0c0"/><rect x="589" y="616" width="1" height="87" fill="#c0c0c0"/><rect x="597" y="619" width="1" height="84" fill="#c0c0c0"/><rect x="605" y="623" width="1" height="80" fill="#c0c0c0"/><rect x="613" y="625" width="1" height="78" fill="#c0c0c0"/><rect x="621" y="620" width="1" height="83" fill="#c0c0c0"/><rect x="629" y="616" width="1" height="87" fill="#c0c0c0"/><rect x="637" y="614" width="1" height="89" fill="#c0c0c0"/><rect x="645" y="612" width="1" height="91" fill="#c0c0c0"/><rect x="653" y="613" width="1" height="90" fill="#c0c0c0"/><rect x="661" y="613" width="1" height="90" fill="#c0c0c0"/><rect x="669" y="611" width="1" height="92" fill="#c0c0c0"/><rect x="677" y="611" width="1" height="92" fill="#c0c0c0"/><rect x="685" y="613" width="1" height="90" fill="#c0c0c0"/><rect x="693" y="616" width="1" height="87" fill="#c0c0c0"/><rect x="701" y="617" width="1" height="86" fill="#c0c0c0"/><rect x="709" y="623" width="1" height="80" fill="#c0c0c0"/><rect x="717" y="619" width="1" height="84" fill="#c0c0c0"/><rect x="725" y="619" width="1" height="84" fill="#c0c0c0"/><rect x="733" y="621" width="1" height="82" fill="#c0c0c0"/><rect x="741" y="624" width="1" height="79" fill="#c0c0c0"/><rect x="749" y="627" width="1" height="76" fill="#c0c0c0"/><rect x="757" y="632" width="1" height="71" fill="#c0c0c0"/><rect x="765" y="643" width="1" height="60" fill="#c0c0c0"/><rect x="773" y="646" width="1" height="57" fill="#c0c0c0"/><rect x="781" y="649" width="1" height="54" fill="#c0c0c0"/><rect x="789" y="649" width="1" height="54" fill="#c0c0c0"/><rect x="797" y="645" width="1" height="58" fill="#c0c0c0"/><rect x="805" y="635" width="1" height="68" fill="#c0c0c0"/><rect x="813" y="620" width="1" height="83" fill="#c0c0c0"/><rect x="821" y="612" width="1" height="91" fill="#c0c0c0"/><rect x="829" y="606" width="1" height="97" fill="#c0c0c0"/><rect x="837" y="606" width="1" height="97" fill="#c0c0c0"/><rect x="845" y="605" width="1" height="98" fill="#c0c0c0"/><rect x="853" y="611" width="1" height="92" fill="#c0c0c0"/><rect x="861" y="612" width="1" height="91" fill="#c0c0c0"/><rect x="869" y="607" width="1" height="96" fill="#c0c0c0"/><rect x="877" y="607" width="1" height="96" fill="#c0c0c0"/><rect x="885" y="614" width="1" height="89" fill="#c0c0c0"/><rect x="893" y="626" width="1" height="77" fill="#c0c0c0"/><rect x="901" y="632" width="1" height="71" fill="#c0c0c0"/><rect x="909" y="640" width="1" height="63" fill="#c0c0c0"/><rect x="917" y="644" width="1" height="59" fill="#c0c0c0"/><rect x="925" y="648" width="1" height="55" fill="#c0c0c0"/><rect x="933" y="649" width="1" height="54" fill="#c0c0c0"/><rect x="941" y="652" width="1" height="51" fill="#c0c0c0"/><rect x="949" y="655" width="1" height="48" fill="#c0c0c0"/><rect x="957" y="657" width="1" height="46" fill="#c0c0c0"/><rect x="965" y="657" width="1" height="46" fill="#c0c0c0"/><rect x="973" y="657" width="1" height="46" fill="#c0c0c0"/><rect x="981" y="656" width="1" height="47" fill="#c0c0c0"/><rect x="989" y="656" width="1" height="47" fill="#c0c0c0"/><rect x="997" y="664" width="1" height="39" fill="#c0c0c0"/><rect x="1005" y="678" width="1" height="25" fill="#c0c0c0"/><rect x="1013" y="686" width="1" height="17" fill="#c0c0c0"/><rect x="1021" y="689" width="1" height="14" fill="#c0c0c0"/><rect x="1029" y="689" width="1" height="14" fill="#c0c0c0"/><rect x="1037" y="691" width="1" height="12" fill="#c0c0c0"/><rect x="1045" y="691" width="1" height="12" fill="#c0c0c0"/><rect x="1053" y="688" width="1" height="15" fill="#c0c0c0"/><rect x="1061" y="684" width="1" height="19" fill="#c0c0c0"/><rect x="1069" y="681" width="1" height="22" fill="#c0c0c0"/><rect x="1077" y="676" width="1" height="27" fill="#c0c0c0"/><rect x="1085" y="675" width="1" height="28" fill="#c0c0c0"/><rect x="1093" y="673" width="1" height="30" fill="#c0c0c0"/><rect x="1101" y="674" width="1" height="29" fill="#c0c0c0"/><rect x="1109" y="679" width="1" height="24" fill="#c0c0c0"/><rect x="1117" y="680" width="1" height="23" fill="#c0c0c0"/><rect x="1125" y="682" width="1" height="21" fill="#c0c0c0"/><rect x="1133" y="683" width="1" height="20" fill="#c0c0c0"/><rect x="1141" y="683" width="1" height="20" fill="#c0c0c0"/><rect x="1149" y="689" width="1" height="14" fill="#c0c0c0"/><rect x="1157" y="696" width="1" height="7" fill="#c0c0c0"/><rect x="1173" y="702" width="1" height="10" fill="#c0c0c0"/><rect x="1181" y="702" width="1" height="17" fill="#c0c0c0"/><rect x="1189" y="702" width="1" height="21" fill="#c0c0c0"/><rect x="1197" y="702" width="1" height="31" fill="#c0c0c0"/><rect x="1205" y="702" width="1" height="33" fill="#c0c0c0"/><rect x="1213" y="702" width="1" height="31" fill="#c0c0c0"/><rect x="1221" y="702" width="1" height="28" fill="#c0c0c0"/><rect x="1229" y="702" width="1" height="23" fill="#c0c0c0"/><rect x="1237" y="702" width="1" height="23" fill="#c0c0c0"/><rect x="1245" y="702" width="1" height="20" fill="#c0c0c0"/><rect x="1253" y="702" width="1" height="20" fill="#c0c0c0"/><rect x="1261" y="702" width="1" height="20" fill="#c0c0c0"/><rect x="1269" y="702" width="1" height="15" fill="#c0c0c0"/><rect x="1277" y="702" width="1" height="10" fill="#c0c0c0"/><rect x="1285" y="702" width="1" height="15" fill="#c0c0c0"/><rect x="1293" y="702" width="1" height="24" fill="#c0c0c0"/><rect x="1301" y="702" width="1" height="28" fill="#c0c0c0"/><rect x="1309" y="702" width="1" height="32" fill="#c0c0c0"/><rect x="1317" y="702" width="1" height="34" fill="#c0c0c0"/><rect x="1325" y="702" width="1" height="39" fill="#c0c0c0"/><rect x="1333" y="702" width="1" height="35" fill="#c0c0c0"/><rect x="1341" y="702" width="1" height="35" fill="#c0c0c0"/><rect x="1349" y="702" width="1" height="37" fill="#c0c0c0"/><rect x="1357" y="702" width="1" height="38" fill="#c0c0c0"/><rect x="1365" y="702" width="1" height="35" fill="#c0c0c0"/><rect x="1373" y="702" width="1" height="35" fill="#c0c0c0"/><rect x="1381" y="702" width="1" height="34" fill="#c0c0c0"/><rect x="1389" y="702" width="1" height="35" fill="#c0c0c0"/><rect x="1397" y="702" width="1" height="36" fill="#c0c0c0"/><rect x="1405" y="702" width="1" height="41" fill="#c0c0c0"/><polyline points="0.5,722.4 12.9,720.4 27.8,716.7 40.1,711.7 55.0,706.8 74.8,705.0 99.6,703.8 131.8,700.6 149.2,693.1 173.9,683.2 198.7,670.8 216.1,660.9 230.9,659.7 245.8,660.9 260.7,669.6 278.0,684.5 297.8,701.8 312.7,715.4 322.6,721.1 332.5,722.4 347.4,719.2 359.8,714.2 374.6,701.8 389.5,684.5 401.9,669.6 410.5,658.5 422.9,646.2 435.3,631.3 447.7,616.4 460.1,607.3 472.5,600.3 484.8,596.6 494.7,595.9 507.1,597.8 522.0,604.0 541.8,604.8 559.2,604.8 583.9,604.0 601.3,606.0 618.6,613.9 633.5,615.9 653.3,617.7 670.7,615.9 683.0,613.5 702.9,612.7 727.6,615.9 745.0,618.2 762.3,623.9 777.2,628.8 789.6,634.5 804.5,638.0 816.8,637.0 820.5,637.0 837.8,630.1 852.7,621.4 870.1,612.7 880.0,609.0 892.4,609.7 902.3,612.7 919.6,622.6 934.5,631.3 951.8,641.2 969.2,648.6 984.0,653.6 996.4,654.8 1013.8,661.0 1028.6,669.7 1048.4,679.6 1063.3,684.6 1075.7,685.8 1093.0,683.3 1107.9,680.1 1122.8,678.4 1142.6,678.4 1157.5,681.6 1172.3,688.3 1192.1,700.7 1207.0,711.8 1221.9,720.5 1232.4,724.9 1237.9,725.2 1244.1,728.0 1259.0,728.0 1266.4,726.2 1273.9,725.2 1280.1,723.1 1287.5,721.8 1300.5,723.0 1320.5,726.0 1335.5,728.5 1347.0,731.7 1354.4,734.8 1360.6,736.1 1373.0,736.7 1385.4,737.9 1391.6,737.9 1405.5,738.5" fill="none" stroke="#ff0000" stroke-width="1" stroke-dasharray="3,3" shape-rendering="crispEdges"/><line x1="1290" y1="721.6" x2="1414" y2="737.3" stroke="#ff0000" stroke-width="3.2"/><polygon points="1424.5,738.5 1413.5,731.5 1412.5,742" fill="#ff0000"/></g>
<g clip-path="url(#crsi)" shape-rendering="crispEdges"><line x1="0" y1="788.5" x2="1648" y2="788.5" stroke="#c0c0c0" stroke-width="1" stroke-dasharray="3,3"/><line x1="0" y1="839.5" x2="1648" y2="839.5" stroke="#c0c0c0" stroke-width="1" stroke-dasharray="3,3"/><line x1="0" y1="900.5" x2="1648" y2="900.5" stroke="#c0c0c0" stroke-width="1" stroke-dasharray="3,3"/><polyline points="0.5,842.6 5.5,834.7 13.5,831.0 21.5,832.2 29.5,839.7 37.5,826.0 45.5,840.1 53.5,846.6 61.5,847.1 69.5,852.8 77.5,843.4 85.5,832.7 93.5,831.7 101.5,835.9 109.5,832.7 117.5,830.5 125.5,826.5 133.5,819.1 141.5,837.9 149.5,824.3 157.5,814.9 165.5,818.6 173.5,816.6 181.5,812.4 189.5,811.7 197.5,827.8 205.5,822.3 213.5,829.0 221.5,828.0 229.5,842.6 237.5,844.6 245.5,845.8 253.5,858.7 261.5,860.0 269.5,863.9 277.5,857.0 285.5,860.7 293.5,854.0 301.5,854.0 309.5,852.8 317.5,848.8 325.5,837.2 333.5,826.0 341.5,816.9 349.5,820.6 357.5,819.1 365.5,813.1 373.5,803.0 381.5,796.8 389.5,796.8 397.5,803.7 405.5,805.0 413.5,798.0 421.5,789.0 429.5,793.5 437.5,792.0 445.5,798.9 453.5,803.9 461.5,803.1 469.5,801.9 477.5,808.8 485.5,811.8 493.5,810.8 501.5,806.3 509.5,805.1 517.5,802.1 525.5,793.5 533.5,789.5 541.5,796.9 549.5,797.2 557.5,799.6 565.5,795.2 573.5,815.5 581.5,813.8 589.5,812.5 597.5,810.8 605.5,811.8 613.5,807.6 621.5,795.9 629.5,794.7 637.5,793.9 645.5,793.9 653.5,798.2 661.5,794.7 669.5,791.0 677.5,792.0 685.5,799.6 693.5,798.4 701.5,794.7 709.5,817.0 717.5,800.1 725.5,808.8 733.5,810.5 741.5,814.5 749.5,812.0 757.5,821.2 765.5,839.3 773.5,826.2 781.5,826.9 789.5,818.0 797.5,812.5 805.5,802.1 813.5,793.9 821.5,802.5 829.5,801.5 837.5,808.3 845.5,807.6 853.5,821.2 861.5,813.0 869.5,806.3 877.5,810.1 885.5,826.2 893.5,836.8 901.5,830.6 909.5,834.3 917.5,829.9 925.5,829.9 933.5,826.7 941.5,828.6 949.5,828.6 957.5,827.4 965.5,823.7 973.5,822.9 981.5,820.0 989.5,818.7 997.5,841.0 1005.5,854.7 1013.5,847.2 1021.5,843.5 1029.5,835.6 1037.5,839.0 1045.5,836.8 1053.5,828.6 1061.5,825.7 1069.5,825.7 1077.5,821.2 1085.5,825.7 1093.5,824.9 1101.5,829.4 1109.5,841.8 1117.5,831.9 1125.5,835.6 1133.5,834.8 1141.5,831.9 1149.5,846.5 1157.5,853.9 1165.5,853.9 1173.5,863.3 1181.5,860.8 1189.5,857.9 1197.5,870.3 1205.5,854.7 1213.5,850.2 1221.5,843.0 1229.5,841.8 1237.5,845.6 1245.5,844.5 1253.5,847.8 1261.5,846.7 1269.5,834.8 1277.5,833.7 1285.5,855.6 1293.5,865.9 1301.5,855.6 1309.5,857.7 1317.5,857.7 1325.5,864.7 1333.5,846.1 1341.5,850.7 1349.5,853.5 1357.5,855.5 1365.5,847.8 1373.5,847.8 1381.5,856.9 1389.5,851.7 1397.5,856.9 1405.5,862.5" fill="none" stroke="#1e90ff" stroke-width="1" shape-rendering="crispEdges"/><line x1="1314" y1="848" x2="1403" y2="862.5" stroke="#ff0000" stroke-width="3.2"/><polygon points="1412,864.5 1402,857.5 1400,868" fill="#ff0000"/></g>
<g shape-rendering="crispEdges"><rect x="0" y="25" width="1649" height="1" fill="#000"/><rect x="0" y="578" width="1649" height="1" fill="#000"/><rect x="0" y="580" width="1649" height="1" fill="#000"/><rect x="0" y="750" width="1649" height="1" fill="#000"/><rect x="0" y="752" width="1649" height="1" fill="#000"/><rect x="0" y="926" width="1649" height="1" fill="#000"/><rect x="1648" y="25" width="1" height="554" fill="#000"/><rect x="1648" y="580" width="1" height="171" fill="#000"/><rect x="1648" y="752" width="1" height="175" fill="#000"/><rect x="1649" y="47" width="3" height="1" fill="#000"/><text x="1654" y="51" font-size="10" fill="#000" textLength="33" lengthAdjust="spacingAndGlyphs">157.835</text><rect x="1649" y="80" width="3" height="1" fill="#000"/><text x="1654" y="84" font-size="10" fill="#000" textLength="33" lengthAdjust="spacingAndGlyphs">157.310</text><rect x="1649" y="113" width="3" height="1" fill="#000"/><text x="1654" y="117" font-size="10" fill="#000" textLength="33" lengthAdjust="spacingAndGlyphs">156.770</text><rect x="1649" y="146" width="3" height="1" fill="#000"/><text x="1654" y="150" font-size="10" fill="#000" textLength="33" lengthAdjust="spacingAndGlyphs">156.240</text><rect x="1649" y="179" width="3" height="1" fill="#000"/><text x="1654" y="183" font-size="10" fill="#000" textLength="33" lengthAdjust="spacingAndGlyphs">155.720</text><rect x="1649" y="212" width="3" height="1" fill="#000"/><text x="1654" y="216" font-size="10" fill="#000" textLength="33" lengthAdjust="spacingAndGlyphs">155.180</text><rect x="1649" y="245" width="3" height="1" fill="#000"/><text x="1654" y="249" font-size="10" fill="#000" textLength="33" lengthAdjust="spacingAndGlyphs">154.655</text><rect x="1649" y="278" width="3" height="1" fill="#000"/><text x="1654" y="282" font-size="10" fill="#000" textLength="33" lengthAdjust="spacingAndGlyphs">154.115</text><rect x="1649" y="311" width="3" height="1" fill="#000"/><text x="1654" y="315" font-size="10" fill="#000" textLength="33" lengthAdjust="spacingAndGlyphs">153.590</text><rect x="1649" y="344" width="3" height="1" fill="#000"/><text x="1654" y="348" font-size="10" fill="#000" textLength="33" lengthAdjust="spacingAndGlyphs">153.065</text><rect x="1649" y="377" width="3" height="1" fill="#000"/><text x="1654" y="381" font-size="10" fill="#000" textLength="33" lengthAdjust="spacingAndGlyphs">152.525</text><rect x="1649" y="410" width="3" height="1" fill="#000"/><text x="1654" y="414" font-size="10" fill="#000" textLength="33" lengthAdjust="spacingAndGlyphs">152.000</text><rect x="1649" y="443" width="3" height="1" fill="#000"/><text x="1654" y="447" font-size="10" fill="#000" textLength="33" lengthAdjust="spacingAndGlyphs">151.460</text><rect x="1649" y="476" width="3" height="1" fill="#000"/><text x="1654" y="480" font-size="10" fill="#000" textLength="33" lengthAdjust="spacingAndGlyphs">150.935</text><rect x="1649" y="509" width="3" height="1" fill="#000"/><text x="1654" y="513" font-size="10" fill="#000" textLength="33" lengthAdjust="spacingAndGlyphs">150.395</text><rect x="1649" y="542" width="3" height="1" fill="#000"/><text x="1654" y="546" font-size="10" fill="#000" textLength="33" lengthAdjust="spacingAndGlyphs">149.870</text><rect x="1649" y="575" width="3" height="1" fill="#000"/><text x="1654" y="579" font-size="10" fill="#000" textLength="33" lengthAdjust="spacingAndGlyphs">149.345</text><rect x="1650" y="144" width="41" height="11" fill="#ff0000"/><text x="1654" y="153" font-size="10" fill="#fff" textLength="33" lengthAdjust="spacingAndGlyphs">156.185</text><rect x="1650" y="167" width="41" height="11" fill="#ff0000"/><text x="1654" y="176" font-size="10" fill="#fff" textLength="33" lengthAdjust="spacingAndGlyphs">155.808</text><rect x="1650" y="192" width="41" height="11" fill="#32cd32"/><text x="1654" y="201" font-size="10" fill="#fff" textLength="33" lengthAdjust="spacingAndGlyphs">155.406</text><rect x="1650" y="208" width="41" height="11" fill="#000000"/><text x="1654" y="217" font-size="10" fill="#fff" textLength="33" lengthAdjust="spacingAndGlyphs">155.164</text><rect x="1650" y="232" width="41" height="11" fill="#0000ff"/><text x="1654" y="241" font-size="10" fill="#fff" textLength="33" lengthAdjust="spacingAndGlyphs">154.764</text><rect x="1650" y="254" width="41" height="11" fill="#0000ff"/><text x="1654" y="263" font-size="10" fill="#fff" textLength="33" lengthAdjust="spacingAndGlyphs">154.410</text><rect x="1649" y="582" width="2" height="1" fill="#000"/><text x="1652" y="591" font-size="10" fill="#000" textLength="28" lengthAdjust="spacingAndGlyphs">0.7801</text><rect x="1649" y="702" width="3" height="1" fill="#000"/><text x="1652" y="706" font-size="10" fill="#000" textLength="19" lengthAdjust="spacingAndGlyphs">0.00</text><text x="1652" y="748" font-size="10" fill="#000" textLength="31" lengthAdjust="spacingAndGlyphs">-0.3111</text><text x="1652" y="763" font-size="10" fill="#000" textLength="15" lengthAdjust="spacingAndGlyphs">100</text><rect x="1649" y="788" width="3" height="1" fill="#000"/><text x="1652" y="792" font-size="10" fill="#000" textLength="10" lengthAdjust="spacingAndGlyphs">80</text><rect x="1649" y="839" width="3" height="1" fill="#000"/><text x="1652" y="843" font-size="10" fill="#000" textLength="10" lengthAdjust="spacingAndGlyphs">50</text><rect x="1649" y="900" width="3" height="1" fill="#000"/><text x="1652" y="904" font-size="10" fill="#000" textLength="10" lengthAdjust="spacingAndGlyphs">15</text><text x="1652" y="924" font-size="10" fill="#000" textLength="5" lengthAdjust="spacingAndGlyphs">0</text><text x="1.8" y="939" font-size="10" fill="#000" textLength="37.5" lengthAdjust="spacingAndGlyphs">Dec 2021</text><rect x="53" y="927" width="1" height="3" fill="#000"/><text x="52.7" y="939" font-size="10" fill="#000" textLength="54.31" lengthAdjust="spacingAndGlyphs">13 Dec 16:00</text><rect x="117" y="927" width="1" height="3" fill="#000"/><text x="116.7" y="939" font-size="10" fill="#000" textLength="54.31" lengthAdjust="spacingAndGlyphs">15 Dec 00:00</text><rect x="181" y="927" width="1" height="3" fill="#000"/><text x="180.7" y="939" font-size="10" fill="#000" textLength="54.31" lengthAdjust="spacingAndGlyphs">16 Dec 08:00</text><rect x="245" y="927" width="1" height="3" fill="#000"/><text x="244.7" y="939" font-size="10" fill="#000" textLength="54.31" lengthAdjust="spacingAndGlyphs">17 Dec 16:00</text><rect x="309" y="927" width="1" height="3" fill="#000"/><text x="308.7" y="939" font-size="10" fill="#000" textLength="54.31" lengthAdjust="spacingAndGlyphs">21 Dec 00:00</text><rect x="373" y="927" width="1" height="3" fill="#000"/><text x="372.7" y="939" font-size="10" fill="#000" textLength="54.31" lengthAdjust="spacingAndGlyphs">22 Dec 08:00</text><rect x="437" y="927" width="1" height="3" fill="#000"/><text x="436.7" y="939" font-size="10" fill="#000" textLength="54.31" lengthAdjust="spacingAndGlyphs">23 Dec 16:00</text><rect x="501" y="927" width="1" height="3" fill="#000"/><text x="500.7" y="939" font-size="10" fill="#000" textLength="54.31" lengthAdjust="spacingAndGlyphs">27 Dec 00:00</text><rect x="565" y="927" width="1" height="3" fill="#000"/><text x="564.7" y="939" font-size="10" fill="#000" textLength="54.31" lengthAdjust="spacingAndGlyphs">28 Dec 08:00</text><rect x="629" y="927" width="1" height="3" fill="#000"/><text x="628.7" y="939" font-size="10" fill="#000" textLength="54.31" lengthAdjust="spacingAndGlyphs">29 Dec 16:00</text><rect x="693" y="927" width="1" height="3" fill="#000"/><text x="692.7" y="939" font-size="10" fill="#000" textLength="54.31" lengthAdjust="spacingAndGlyphs">31 Dec 00:00</text><rect x="757" y="927" width="1" height="3" fill="#000"/><text x="756.7" y="939" font-size="10" fill="#000" textLength="47.71" lengthAdjust="spacingAndGlyphs">3 Jan 08:00</text><rect x="821" y="927" width="1" height="3" fill="#000"/><text x="820.7" y="939" font-size="10" fill="#000" textLength="47.71" lengthAdjust="spacingAndGlyphs">4 Jan 16:00</text><rect x="885" y="927" width="1" height="3" fill="#000"/><text x="884.7" y="939" font-size="10" fill="#000" textLength="47.71" lengthAdjust="spacingAndGlyphs">6 Jan 00:00</text><rect x="949" y="927" width="1" height="3" fill="#000"/><text x="948.7" y="939" font-size="10" fill="#000" textLength="47.71" lengthAdjust="spacingAndGlyphs">7 Jan 08:00</text><rect x="1013" y="927" width="1" height="3" fill="#000"/><text x="1012.7" y="939" font-size="10" fill="#000" textLength="52.79" lengthAdjust="spacingAndGlyphs">10 Jan 16:00</text><rect x="1077" y="927" width="1" height="3" fill="#000"/><text x="1076.7" y="939" font-size="10" fill="#000" textLength="52.79" lengthAdjust="spacingAndGlyphs">12 Jan 00:00</text><rect x="1141" y="927" width="1" height="3" fill="#000"/><text x="1140.7" y="939" font-size="10" fill="#000" textLength="52.79" lengthAdjust="spacingAndGlyphs">13 Jan 08:00</text><rect x="1205" y="927" width="1" height="3" fill="#000"/><text x="1204.7" y="939" font-size="10" fill="#000" textLength="52.79" lengthAdjust="spacingAndGlyphs">14 Jan 16:00</text><rect x="1269" y="927" width="1" height="3" fill="#000"/><text x="1268.7" y="939" font-size="10" fill="#000" textLength="52.79" lengthAdjust="spacingAndGlyphs">18 Jan 00:00</text><rect x="1333" y="927" width="1" height="3" fill="#000"/><text x="1332.7" y="939" font-size="10" fill="#000" textLength="52.79" lengthAdjust="spacingAndGlyphs">19 Jan 08:00</text><rect x="1397" y="927" width="1" height="3" fill="#000"/><text x="1396.7" y="939" font-size="10" fill="#000" textLength="52.79" lengthAdjust="spacingAndGlyphs">20 Jan 16:00</text><text x="4.5" y="37" font-size="10" fill="#000" textLength="199.5" lengthAdjust="spacingAndGlyphs" xml:space="preserve">GBPJPY-,H4  155.406 155.435 155.125 155.164</text><text x="-6" y="593" font-size="10" fill="#000" textLength="132.5" lengthAdjust="spacingAndGlyphs">MACD(12,26,9) -0.2615 -0.2302</text><text x="-6.5" y="765" font-size="10" fill="#000" textLength="67" lengthAdjust="spacingAndGlyphs">RSI(14) 36.7615</text><polygon points="1409,26 1419,26 1414,31" fill="#c0c0c0"/></g>
</svg><svg width="1695" height="23" style="position:absolute;left:0;top:0" font-family="Liberation Sans, sans-serif"><defs><pattern id="chk" width="2" height="2" patternUnits="userSpaceOnUse"><rect width="2" height="2" fill="#f4f4f4"/><rect width="1" height="1" fill="#e8e8e8"/><rect x="1" y="1" width="1" height="1" fill="#e8e8e8"/></pattern><linearGradient id="gp" x1="0" y1="0" x2="0" y2="1"><stop offset="0" stop-color="#80ff90"/><stop offset="1" stop-color="#00e020"/></linearGradient><linearGradient id="gold" x1="0" y1="0" x2="1" y2="1"><stop offset="0" stop-color="#ffe070"/><stop offset="1" stop-color="#c08010"/></linearGradient><linearGradient id="rb" x1="0" y1="0" x2="0" y2="1"><stop offset="0" stop-color="#ee5a3a"/><stop offset="1" stop-color="#d01c08"/></linearGradient></defs><rect x="0" y="0" width="1695" height="21" fill="#f0f0f0"/><rect x="0" y="20" width="1695" height="1" fill="#f5f5f5"/><rect x="0" y="21" width="1695" height="1" fill="#a0a0a0"/><rect x="0" y="22" width="1695" height="1" fill="#696969"/><ellipse cx="0.5" cy="16.5" rx="2" ry="2" fill="#c8901c"/><rect x="9" y="0" width="1" height="19" fill="#a0a0a0"/><rect x="10" y="0" width="1" height="19" fill="#fafafa"/><path d="M19.5,1.5 h8 l3,3 v10 h-11 z" fill="#fff" stroke="#666" stroke-width="1"/><rect x="21" y="3" width="3" height="1.5" fill="#777"/><rect x="21" y="7" width="6" height="1" fill="#888"/><rect x="21" y="9" width="5" height="1" fill="#888"/><rect x="21" y="11" width="3" height="1" fill="#888"/><path d="M27,7.5 h4 v4 h4 v3.5 h-4 v4 h-4 v-4 h-4 v-3.5 h4 z" fill="url(#gp)" stroke="#00800a" stroke-width="1"/><text x="38.5" y="12" font-size="12.5" fill="#000" textLength="65" lengthAdjust="spacingAndGlyphs">New Order</text><path d="M115.5,10.5 L121,2.5 L130.5,8 L126,16 Z" fill="url(#gold)" stroke="#a06a10" stroke-width="1"/><path d="M117,12.5 L126,16.5 L130.5,10" fill="none" stroke="#c08a30" stroke-width="1"/><rect x="145.5" y="1.5" width="10" height="9" fill="#1e90ff" stroke="#1060c0"/><rect x="146" y="2" width="3" height="8" fill="#60b8ff"/><rect x="150" y="4" width="4" height="1" fill="#fff"/><rect x="150" y="6" width="4" height="1" fill="#cfe8ff"/><g fill="#eef2fa" stroke="#5070a8" stroke-width="1"><circle cx="147" cy="14" r="2.6"/><circle cx="152.3" cy="12.2" r="3.6"/><circle cx="156.2" cy="14" r="2.6"/></g><rect x="146.5" y="13" width="10" height="3.2" fill="#e4e9f4"/><rect x="146" y="16.2" width="11" height="0.9" fill="#5070a8"/><defs><linearGradient id="sg" x1="0" y1="0" x2="1" y2="0"><stop offset="0" stop-color="#3a70d0"/><stop offset="1" stop-color="#50b050"/></linearGradient></defs><circle cx="179" cy="9" r="7.3" fill="none" stroke="url(#sg)" stroke-width="1" opacity="0.8"/><circle cx="179" cy="9" r="5" fill="none" stroke="url(#sg)" stroke-width="1" opacity="0.8"/><circle cx="179" cy="9" r="2.7" fill="none" stroke="#3a78c8" stroke-width="1"/><circle cx="179" cy="9" r="1.3" fill="#2060c8"/><path d="M179.2,9 V16.8" fill="none" stroke="#20b020" stroke-width="1.3"/><path d="M199,9 L212,9 L211,15 L205,17 Z" fill="#f8e050" stroke="#d0a020" stroke-width="0.8"/><ellipse cx="205.5" cy="5" rx="7" ry="2.6" fill="#6ab0e0" stroke="#3080c0" stroke-width="0.8"/><ellipse cx="205.5" cy="3.5" rx="3.5" ry="2.5" fill="#8cc8f0" stroke="#3080c0" stroke-width="0.8"/><circle cx="210.5" cy="12.5" r="4" fill="#d82010"/><rect x="209" y="11" width="3" height="3" fill="#fff"/><text x="219" y="12" font-size="12.5" fill="#000" textLength="71" lengthAdjust="spacingAndGlyphs">AutoTrading</text><rect x="298" y="0" width="1" height="21" fill="#a0a0a0"/><rect x="299" y="0" width="1" height="21" fill="#fafafa"/><rect x="302" y="1" width="3" height="1" fill="#8c8c8c"/><rect x="302" y="3" width="3" height="1" fill="#8c8c8c"/><rect x="302" y="5" width="3" height="1" fill="#8c8c8c"/><rect x="302" y="7" width="3" height="1" fill="#8c8c8c"/><rect x="302" y="9" width="3" height="1" fill="#8c8c8c"/><rect x="302" y="11" width="3" height="1" fill="#8c8c8c"/><rect x="302" y="13" width="3" height="1" fill="#8c8c8c"/><rect x="302" y="15" width="3" height="1" fill="#8c8c8c"/><rect x="302" y="17" width="3" height="1" fill="#8c8c8c"/><g fill="#555"><rect x="316" y="4" width="1" height="13"/><rect x="314" y="14" width="12" height="1"/><polygon points="316.5,2.5 314.5,5 318.5,5"/><polygon points="328.5,14.5 326,12.5 326,16.5"/></g><g fill="#10a010"><rect x="322" y="4" width="1" height="9"/><rect x="323" y="5" width="2" height="1"/><rect x="320" y="11" width="2" height="1"/></g><rect x="336" y="0" width="1" height="19" fill="#a0a0a0"/><rect x="337" y="0" width="1" height="19" fill="#fafafa"/><rect x="338" y="0" width="23" height="19" fill="url(#chk)"/><g fill="#555"><rect x="344" y="4" width="1" height="13"/><rect x="342" y="14" width="12" height="1"/><polygon points="344.5,2.5 342.5,5 346.5,5"/><polygon points="356.5,14.5 354,12.5 354,16.5"/></g><rect x="350" y="1" width="1" height="12" fill="#10a010"/><rect x="348.5" y="3.5" width="4" height="7" fill="#50e050" stroke="#10a010"/><g fill="#555"><rect x="372" y="4" width="1" height="13"/><rect x="370" y="14" width="12" height="1"/><polygon points="372.5,2.5 370.5,5 374.5,5"/><polygon points="384.5,14.5 382,12.5 382,16.5"/></g><polyline points="371,11.5 374,8 377,6.3 380,8.5 382.5,10.3" fill="none" stroke="#30b030" stroke-width="1"/><rect x="393" y="0" width="1" height="19" fill="#a0a0a0"/><rect x="394" y="0" width="1" height="19" fill="#fafafa"/><line x1="411.5" y1="10.5" x2="417" y2="15.5" stroke="#c8a020" stroke-width="2.2"/><circle cx="408" cy="6.8" r="5.5" fill="#d8f0ff" stroke="#3070c0" stroke-width="1"/><rect x="404.5" y="6" width="7" height="1.6" fill="#4080b0"/><rect x="407.2" y="3.3" width="1.6" height="7" fill="#4080b0"/><line x1="439.5" y1="10.5" x2="445" y2="15.5" stroke="#c8a020" stroke-width="2.2"/><circle cx="436" cy="6.8" r="5.5" fill="#d8f0ff" stroke="#3070c0" stroke-width="1"/><rect x="432.5" y="6" width="7" height="1.6" fill="#4080b0"/><rect x="458" y="1" width="8" height="8" fill="#30a020"/><rect x="466" y="1" width="8" height="8" fill="#2050d0"/><rect x="458" y="9" width="8" height="8" fill="#2050d0"/><rect x="466" y="9" width="8" height="8" fill="#30a020"/><rect x="459" y="4" width="6" height="3" fill="#fff"/><rect x="467" y="4" width="6" height="3" fill="#fff"/><rect x="459" y="12" width="6" height="3" fill="#fff"/><rect x="467" y="12" width="6" height="3" fill="#fff"/><rect x="483" y="0" width="1" height="19" fill="#a0a0a0"/><rect x="484" y="0" width="1" height="19" fill="#fafafa"/><rect x="488" y="0" width="1" height="19" fill="#a0a0a0"/><rect x="489" y="0" width="24" height="19" fill="url(#chk)"/><g fill="#555"><rect x="496" y="4" width="1" height="13"/><rect x="494" y="14" width="12" height="1"/><polygon points="496.5,2.5 494.5,5 498.5,5"/><polygon points="508.5,14.5 506,12.5 506,16.5"/></g><polygon points="501,5 505,8.5 501,12" fill="#50d050" stroke="#10a010" stroke-width="0.8"/><rect x="516" y="0" width="1" height="19" fill="#a0a0a0"/><rect x="517" y="0" width="1" height="19" fill="#fafafa"/><rect x="518" y="0" width="23" height="19" fill="url(#chk)"/><g fill="#555"><rect x="524" y="4" width="1" height="13"/><rect x="522" y="14" width="12" height="1"/><polygon points="524.5,2.5 522.5,5 526.5,5"/><polygon points="536.5,14.5 534,12.5 534,16.5"/></g><rect x="530" y="3" width="1" height="10" fill="#1070c0"/><polygon points="531.5,8.5 535,6.5 534,8.5 536,8.5 536,9.5 534,9.5 535,11" fill="#e05010"/><rect x="545" y="0" width="1" height="19" fill="#a0a0a0"/><rect x="546" y="0" width="1" height="19" fill="#fafafa"/><path d="M555.5,1.5 h8 l3,3 v10 h-11 z" fill="#fff" stroke="#666" stroke-width="1"/><text x="557" y="12" font-size="9" fill="#666" font-style="italic">f</text><path d="M563,7.5 h4 v4 h4 v3.5 h-4 v4 h-4 v-4 h-4 v-3.5 h4 z" fill="url(#gp)" stroke="#00800a" stroke-width="1"/><polygon points="577,8 582,8 579.5,11" fill="#000"/><defs><linearGradient id="cg" x1="0" y1="0" x2="0.6" y2="1"><stop offset="0" stop-color="#4aa8ff"/><stop offset="1" stop-color="#0a3c9c"/></linearGradient></defs><circle cx="601" cy="8.8" r="6.9" fill="#fdfdff" stroke="url(#cg)" stroke-width="2.2"/><g fill="#b0b0b0"><rect x="600.5" y="3.2" width="1" height="1"/><rect x="600.5" y="13.4" width="1" height="1"/><rect x="595.4" y="8.3" width="1" height="1"/><rect x="605.6" y="8.3" width="1" height="1"/></g><rect x="599" y="11.5" width="4" height="1" fill="#9cc8f0"/><path d="M600.5,4 V9 H604" fill="none" stroke="#000" stroke-width="1"/><polygon points="616,8 621,8 618.5,11" fill="#000"/><rect x="632.5" y="2.5" width="15" height="13" fill="#fff" stroke="#3070c0"/><rect x="633" y="3" width="14" height="2" fill="#6090d0"/><rect x="633" y="9" width="14" height="1" fill="#3070c0"/><polyline points="634,7.5 637,7 639,6 641,7 643,6.5 646,6" fill="none" stroke="#a02000" stroke-width="1"/><polyline points="634,13 637,12 639,13 642,11 645,13" fill="none" stroke="#10a010" stroke-width="1"/><polygon points="655,8 660,8 657.5,11" fill="#000"/><rect x="666" y="0" width="1" height="21" fill="#a0a0a0"/><rect x="667" y="0" width="1" height="21" fill="#fafafa"/><rect x="670" y="1" width="3" height="1" fill="#8c8c8c"/><rect x="670" y="3" width="3" height="1" fill="#8c8c8c"/><rect x="670" y="5" width="3" height="1" fill="#8c8c8c"/><rect x="670" y="7" width="3" height="1" fill="#8c8c8c"/><rect x="670" y="9" width="3" height="1" fill="#8c8c8c"/><rect x="670" y="11" width="3" height="1" fill="#8c8c8c"/><rect x="670" y="13" width="3" height="1" fill="#8c8c8c"/><rect x="670" y="15" width="3" height="1" fill="#8c8c8c"/><rect x="670" y="17" width="3" height="1" fill="#8c8c8c"/><rect x="676" y="0" width="1" height="19" fill="#a0a0a0"/><rect x="677" y="0" width="24" height="19" fill="url(#chk)"/><polygon points="684,2 692,9.5 689,9.5 691,14.5 689,15.5 687,10.5 684,12.5" fill="#505050"/><g fill="#444"><rect x="716" y="2" width="1" height="6"/><rect x="716" y="11" width="1" height="6"/><rect x="709" y="9" width="6" height="1"/><rect x="718" y="9" width="6" height="1"/></g><rect x="733" y="0" width="1" height="19" fill="#a0a0a0"/><rect x="734" y="0" width="1" height="19" fill="#fafafa"/><rect x="750" y="3" width="1" height="13" fill="#444"/><rect x="773" y="9" width="12" height="1" fill="#444"/><line x1="800.5" y1="16" x2="813" y2="4" stroke="#444" stroke-width="1"/><line x1="827" y1="12" x2="835" y2="3" stroke="#444" stroke-width="1"/><line x1="829" y1="16" x2="840" y2="6" stroke="#444" stroke-width="1"/><line x1="838.5" y1="1" x2="838.5" y2="8" stroke="#444"/><line x1="831.5" y1="8" x2="831.5" y2="14" stroke="#444"/><text x="837.5" y="17.5" font-size="7" font-weight="bold" fill="#333">E</text><line x1="856" y1="2.5" x2="869" y2="2.5" stroke="#444" stroke-width="1" stroke-dasharray="1,1"/><line x1="856" y1="5.5" x2="869" y2="5.5" stroke="#444" stroke-width="1" stroke-dasharray="1,1"/><line x1="856" y1="9.5" x2="869" y2="9.5" stroke="#444" stroke-width="1" stroke-dasharray="1,1"/><line x1="856" y1="13.5" x2="869" y2="13.5" stroke="#444" stroke-width="1" stroke-dasharray="1,1"/><text x="865.5" y="17.5" font-size="7" font-weight="bold" fill="#333">F</text><text x="886.5" y="14" font-size="11" font-weight="bold" fill="#555">A</text><rect x="913" y="3" width="11" height="12" fill="none" stroke="#444" stroke-width="1" stroke-dasharray="1,1"/><text x="914.5" y="14" font-size="10.5" font-weight="bold" fill="#555">T</text><polygon points="940,6.5 943.5,3 947,6.5" fill="#555"/><polyline points="942,9 944.5,11.5 949,7" fill="none" stroke="#555" stroke-width="1.3"/><polygon points="947,11.5 954,11.5 950.5,15.5" fill="#555"/><polygon points="961,8 966,8 963.5,11" fill="#000"/><rect x="972" y="0" width="1" height="21" fill="#a0a0a0"/><rect x="973" y="0" width="1" height="21" fill="#fafafa"/><rect x="976" y="1" width="3" height="1" fill="#8c8c8c"/><rect x="976" y="3" width="3" height="1" fill="#8c8c8c"/><rect x="976" y="5" width="3" height="1" fill="#8c8c8c"/><rect x="976" y="7" width="3" height="1" fill="#8c8c8c"/><rect x="976" y="9" width="3" height="1" fill="#8c8c8c"/><rect x="976" y="11" width="3" height="1" fill="#8c8c8c"/><rect x="976" y="13" width="3" height="1" fill="#8c8c8c"/><rect x="976" y="15" width="3" height="1" fill="#8c8c8c"/><rect x="976" y="17" width="3" height="1" fill="#8c8c8c"/><text x="988" y="13" font-size="10.5" fill="#333" textLength="12.5" lengthAdjust="spacingAndGlyphs">M1</text><text x="1015.5" y="13" font-size="10.5" fill="#333" textLength="12.8" lengthAdjust="spacingAndGlyphs">M5</text><text x="1041.8" y="13" font-size="10.5" fill="#333" textLength="17.3" lengthAdjust="spacingAndGlyphs">M15</text><text x="1069.7" y="13" font-size="10.5" fill="#333" textLength="17.4" lengthAdjust="spacingAndGlyphs">M30</text><text x="1100.9" y="13" font-size="10.5" fill="#333" textLength="11.3" lengthAdjust="spacingAndGlyphs">H1</text><rect x="1122" y="0" width="1" height="19" fill="#a0a0a0"/><rect x="1123" y="0" width="25" height="19" fill="url(#chk)"/><text x="1127.8" y="13" font-size="10.5" fill="#333" textLength="12" lengthAdjust="spacingAndGlyphs">H4</text><text x="1156.7" y="13" font-size="10.5" fill="#333" textLength="11.5" lengthAdjust="spacingAndGlyphs">D1</text><text x="1184.3" y="13" font-size="10.5" fill="#333" textLength="14.1" lengthAdjust="spacingAndGlyphs">W1</text><text x="1210.8" y="13" font-size="10.5" fill="#333" textLength="14.4" lengthAdjust="spacingAndGlyphs">MN</text><rect x="1233" y="0" width="1" height="21" fill="#a0a0a0"/><rect x="1234" y="0" width="1" height="21" fill="#fafafa"/><line x1="1643.5" y1="13.5" x2="1648" y2="9" stroke="#2050c8" stroke-width="2.2"/><circle cx="1650.5" cy="6.3" r="3.6" fill="#f4f4ff" stroke="#2858d0" stroke-width="1.3"/><ellipse cx="1672.5" cy="11" rx="5.2" ry="4.6" fill="#e4e4ec" stroke="#a0a0a0" stroke-width="0.8"/><polygon points="1670,15 1672.5,15.5 1670.3,17.8" fill="#909090"/><circle cx="1681.4" cy="6.5" r="8.2" fill="url(#rb)"/><path d="M1679.6,2.3 h1.9 v7.6 h1.6 v1.3 h-5.4 v-1.3 h1.9 v-5.4 l-1.6,0.9 v-1.3 z" fill="#fff"/></svg><div id="tbicons"></div><svg width="212" height="58" style="position:absolute;left:0;top:45px" font-family="Liberation Sans, sans-serif"><defs><linearGradient id="bt" x1="0" y1="0" x2="0" y2="1"><stop offset="0" stop-color="#5c5cff"/><stop offset="1" stop-color="#3a3aea"/></linearGradient><linearGradient id="bb" x1="0" y1="0" x2="0" y2="1"><stop offset="0" stop-color="#2d2de6"/><stop offset="1" stop-color="#0000b4"/></linearGradient><linearGradient id="sp" x1="0" y1="0" x2="0" y2="1"><stop offset="0" stop-color="#f6f6f6"/><stop offset="1" stop-color="#d8d8d8"/></linearGradient></defs><rect x="0" y="0" width="44" height="25" fill="url(#bt)"/><rect x="0" y="0" width="44" height="1" fill="#2020a0"/><rect x="43" y="0" width="1" height="25" fill="#2020a0"/><rect x="0" y="23" width="40" height="1" fill="#1a1a90"/><rect x="0" y="24" width="40" height="1" fill="#7070ff"/><text x="4.5" y="16" font-size="12.5" fill="#fff" textLength="25" lengthAdjust="spacingAndGlyphs">SELL</text><polygon points="33.5,22 35.2,23.7 33.5,25.4 31.8,23.7" fill="none" stroke="#e0c020" stroke-width="0.8"/><rect x="46" y="0" width="113" height="25" fill="#f0f0f0"/><rect x="47" y="1" width="110" height="22" fill="#fff" stroke="#c4c4c4" stroke-width="1"/><rect x="47.5" y="1.5" width="20" height="20" fill="url(#sp)" stroke="#b4b4b4" stroke-width="1"/><rect x="136.5" y="1.5" width="20" height="20" fill="url(#sp)" stroke="#b4b4b4" stroke-width="1"/><polygon points="54.5,9.5 59.5,9.5 57,12" fill="#5060b0"/><polygon points="143.5,12 148.5,12 146,9.5" fill="#5060b0"/><text x="108.5" y="14.6" font-size="12" fill="#000" textLength="23.3" lengthAdjust="spacingAndGlyphs">1.00</text><rect x="159" y="0" width="52" height="25" fill="url(#bt)"/><rect x="159" y="0" width="52" height="1" fill="#2020a0"/><rect x="159" y="0" width="1" height="25" fill="#2020a0"/><rect x="210" y="0" width="1" height="25" fill="#2020a0"/><rect x="163" y="23" width="44" height="1" fill="#1a1a90"/><rect x="163" y="24" width="44" height="1" fill="#7070ff"/><text x="172.7" y="16" font-size="12.5" fill="#fff" textLength="22.8" lengthAdjust="spacingAndGlyphs">BUY</text><rect x="0" y="24" width="101" height="33" fill="url(#bb)"/><rect x="103" y="24" width="108" height="33" fill="url(#bb)"/><text x="15.6" y="51.6" font-size="11.5" font-weight="bold" fill="#fff" textLength="20.1" lengthAdjust="spacingAndGlyphs">155</text><text x="40.9" y="51.6" font-size="33" fill="#fff" textLength="33.8" lengthAdjust="spacingAndGlyphs">16</text><text x="79.2" y="36" font-size="11.5" font-weight="bold" fill="#fff">4</text><text x="126" y="51.6" font-size="11.5" font-weight="bold" fill="#fff" textLength="19.5" lengthAdjust="spacingAndGlyphs">155</text><text x="151.3" y="51.6" font-size="33" fill="#fff" textLength="33.7" lengthAdjust="spacingAndGlyphs">20</text><text x="190.9" y="36" font-size="11.5" font-weight="bold" fill="#fff">3</text></svg></body></html>
